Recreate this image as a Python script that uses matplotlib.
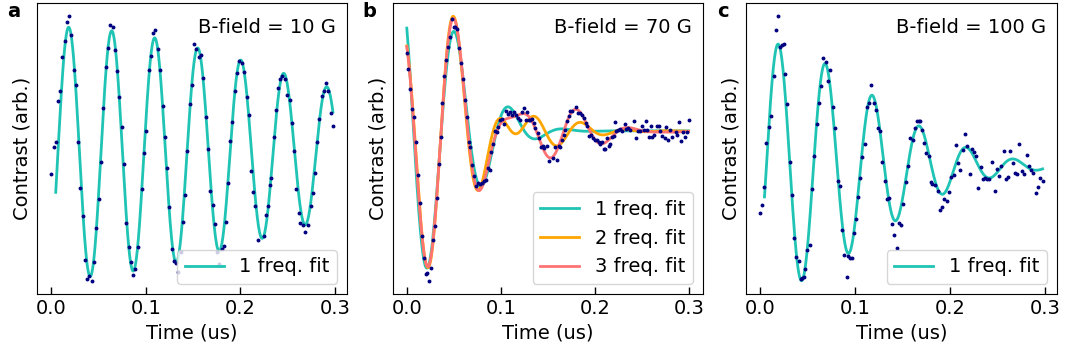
import numpy as np
import matplotlib
matplotlib.use("Agg")
import matplotlib.pyplot as plt

# ---------------- data (time in us, contrast in arbitrary units) ----------------
ta = np.array([0.0,0.0028,0.0049,0.0074,0.0098,0.0120,0.0144,0.0169,0.0194,0.0215,0.0243,0.0265,0.0289,0.0310,0.0334,0.0360,0.0384,0.0405,0.0430,0.0455,0.0479,0.0504,0.0525,0.0550,0.0575,0.0599,0.0624,0.0649,0.0673,0.0698,0.0720,0.0744,0.0768,0.0794,0.0818,0.0842,0.0868,0.0889,0.0913,0.0963,0.0980,0.1005,0.1030,0.1054,0.1079,0.1101,0.1125,0.1149,0.1178,0.1199,0.1228,0.1249,0.1273,0.1297,0.1319,0.1344,0.1368,0.1393,0.1418,0.1435,0.1463,0.1485,0.1509,0.1534,0.1559,0.1580,0.1604,0.1633,0.1654,0.1683,0.1707,0.1731,0.1757,0.1778,0.1802,0.1823,0.1848,0.1873,0.1894,0.1915,0.1947,0.1968,0.1989,0.2014,0.2038,0.2067,0.2088,0.2112,0.2133,0.2159,0.2183,0.2247,0.2268,0.2289,0.2310,0.2328,0.2352,0.2377,0.2398,0.2419,0.2444,0.2466,0.2490,0.2519,0.2546,0.2567,0.2585,0.2614,0.2628,0.2656,0.2680,0.2716,0.2741,0.2762,0.2783,0.2808,0.2832,0.2857,0.2878,0.2903,0.2924,0.2952,0.2977])
ca = np.array([126,153.3,158.7,200,210,243.3,260,279.3,284.7,265.7,231,215.7,158.3,112.7,84.3,40.3,20.7,24.3,19.3,38,72.3,101.3,138,193,233.3,252.7,275.7,274,251,229.7,203.7,173.3,136.3,77.7,53,37.7,24.7,31,53,111.3,147.3,169.3,230.7,244.7,267.7,270.7,252.3,230.7,194.3,164,132.7,93,50.7,39.3,36.7,28,47.7,78.3,105,149.7,196.3,215.3,257.3,251.7,243.3,246.3,222.7,183.3,151.3,109.7,95.7,76.7,47.7,35.7,51.3,54.3,78,117,159.3,178.3,210,227.7,240,237.7,229,203.3,185.7,129.7,108.7,94.7,60,64.3,85.7,94.3,115,122,163.3,190.3,212.7,221.7,225,221.3,206,200.3,177.7,149.3,111.7,87.3,77.7,75,68,75,94.3,107.7,127,158.3,182,204.7,210,217.3,210,188,175])

tb = np.array([0.0000,0.0018,0.0036,0.0057,0.0078,0.0100,0.0117,0.0139,0.0160,0.0181,0.0203,0.0217,0.0235,0.0256,0.0277,0.0295,0.0316,0.0338,0.0359,0.0377,0.0398,0.0416,0.0434,0.0455,0.0476,0.0498,0.0515,0.0537,0.0554,0.0579,0.0597,0.0618,0.0636,0.0657,0.0675,0.0697,0.0718,0.0736,0.0757,0.0778,0.0800,0.0821,0.0842,0.0860,0.0881,0.0899,0.0920,0.0942,0.0956,0.0974,0.0995,0.1016,0.1038,0.1059,0.1080,0.1098,0.1119,0.1141,0.1162,0.1183,0.1201,0.1223,0.1244,0.1262,0.1276,0.1294,0.1311,0.1329,0.1350,0.1368,0.1390,0.1407,0.1429,0.1446,0.1461,0.1489,0.1517,0.1553,0.1578,0.1596,0.1613,0.1631,0.1652,0.1667,0.1684,0.1702,0.1720,0.1738,0.1759,0.1798,0.1816,0.1837,0.1862,0.1880,0.1901,0.1915,0.1933,0.1958,0.1976,0.2004,0.2022,0.2040,0.2058,0.2075,0.2093,0.2111,0.2129,0.2146,0.2164,0.2182,0.2200,0.2217,0.2228,0.2246,0.2271,0.2289,0.2317,0.2335,0.2353,0.2377,0.2420,0.2438,0.2456,0.2477,0.2498,0.2520,0.2541,0.2555,0.2576,0.2598,0.2612,0.2633,0.2655,0.2683,0.2697,0.2711,0.2740,0.2754,0.2775,0.2797,0.2818,0.2857,0.2875,0.2896,0.2910,0.2932,0.2953,0.2974,0.2996])
cb = np.array([249.3,232.7,213.3,192.7,184.3,159.3,126.3,97.7,64.7,41.7,26,27.3,19,32.3,60.7,74.7,102.3,137.3,164,198.3,225.7,242,255.7,265.3,284,275.3,276,273.3,254,239.3,222.7,202,184.3,159,154,135.7,125.3,114.3,118.3,116.7,117.7,120,121,132.7,131.3,149.3,157.3,170,169.3,174,181.7,182.3,177.7,190.7,188,190,186.7,189.7,186.7,183.3,182,190,193.3,181.3,189.3,181.7,181.3,182.3,178,173.3,168,163.7,154.3,155.7,153,155,139.7,143,154.3,141,155,154.3,161.7,166.7,171.7,180,185.7,191,191,194.3,189,188.3,186.7,183.3,178.3,175,165.7,166.7,163.3,161,161.7,159,157.7,159,152.3,152.3,163.3,155.7,157.7,164.3,165.7,179,170.7,171.7,172.3,170,177.3,172.3,173.3,171.7,181,163.3,170.7,170.7,175.7,171.7,180,171,164.3,175.7,164.3,166.7,175,175,170.7,165.7,163.3,174.3,161.7,171.7,164,169,166.7,179,160,169,164.3,169,181.7])

tc = np.array([0.0,0.0021,0.0046,0.0067,0.0091,0.0116,0.0141,0.0165,0.0190,0.0211,0.0229,0.0247,0.0261,0.0285,0.0310,0.0335,0.0356,0.0381,0.0405,0.0426,0.0441,0.0458,0.0476,0.0497,0.0525,0.0550,0.0571,0.0596,0.0617,0.0645,0.0666,0.0691,0.0719,0.0740,0.0765,0.0786,0.0815,0.0839,0.0860,0.0885,0.0910,0.0927,0.0948,0.0963,0.0984,0.1005,0.1030,0.1051,0.1075,0.1100,0.1121,0.1146,0.1167,0.1195,0.1220,0.1241,0.1262,0.1287,0.1312,0.1337,0.1361,0.1386,0.1407,0.1439,0.1463,0.1484,0.1509,0.1532,0.1555,0.1580,0.1605,0.1633,0.1651,0.1672,0.1686,0.1704,0.1725,0.1749,0.1774,0.1795,0.1813,0.1837,0.1869,0.1897,0.1915,0.1932,0.1968,0.1993,0.2014,0.2038,0.2063,0.2085,0.2109,0.2133,0.2159,0.2180,0.2204,0.2225,0.2247,0.2271,0.2296,0.2321,0.2342,0.2366,0.2392,0.2413,0.2444,0.2469,0.2490,0.2518,0.2540,0.2567,0.2593,0.2610,0.2631,0.2659,0.2684,0.2709,0.2730,0.2755,0.2779,0.2804,0.2829,0.2853,0.2874,0.2900,0.2924,0.2948,0.2973])
cc = np.array([90.7,98.3,116.7,160,176,186.3,225.7,270.7,284.7,254.3,256,257,227.3,198,140.7,108.3,65.7,47.3,43.3,26,26.7,27.3,35.3,54,59,114,147.3,178.7,199.3,216.3,244,239.3,221,231.7,195.3,174.7,122,117.3,73.7,49.3,27.3,48.3,46,46.7,71,85,107,125.3,146.3,158.7,195,199.3,217.3,199.3,192.7,174.3,171.7,141,122.7,105,106,80,69.3,56.7,80.7,79.3,100,121.7,136.7,165,162.7,175,181.7,181.7,181.7,172.7,160,150,146.7,121.7,119.3,118.3,112.7,94,96.7,105,102.7,111.7,126,128.3,157.7,140,133.3,153.3,169,156.7,129.3,154,150.7,146.7,115.7,136,124,125.7,124,124,140.7,112.3,134,127.3,136.7,152.3,124,126.7,152.3,140,130,129,158.3,131.7,129,148.3,137.3,133.3,130,110,116.7,125,122.7])

# ---------------- fit parameters ----------------
# y = C + sum_i R_i * exp(-(t/T_i)^2) * cos(2*pi*f_i*t + phi_i)   (f in MHz, t in us)
fit_a = dict(C=148.0, R=[126.0], f=[22.0], phi=[-2.571], T=[0.362])
fit_b1 = dict(C=170.5, R=[149.07], f=[16.992], phi=[0.7996], T=[0.0808])
fit_b2 = dict(C=170.34, R=[90.63, 59.73], f=[15.0861, 21.7102], phi=[1.2543, -0.2563], T=[0.0984, 0.1229])
fit_b3 = dict(C=169.8, R=[7.6, 87.86, 47.5], f=[10.235, 15.736, 22.021], phi=[2.005, 1.0659, -0.1949], T=[0.1345, 0.1345, 0.1345])
fit_c = dict(C=137.0, R=[122.0], f=[20.15], phi=[-2.405], T=[0.158])

titles = ["B-field = 10 G", "B-field = 70 G", "B-field = 100 G"]
panel_labels = ["a", "b", "c"]
fit_labels = ["1 freq. fit", "2 freq. fit", "3 freq. fit"]


def model(t, p):
    y = np.full_like(t, p["C"])
    for R, f, ph, T in zip(p["R"], p["f"], p["phi"], p["T"]):
        y = y + R * np.exp(-(t / T) ** 2) * np.cos(2 * np.pi * f * t + ph)
    return y


teal, orange, salmon, dot = "#1fc4b4", "#ffa500", "#ff7373", "#000080"
plt.rcParams.update({"font.family": "DejaVu Sans", "font.size": 14})

W, H = 1065, 358
fig = plt.figure(figsize=(W / 100, H / 100), dpi=100)


def rect(l, r, top=3, bot=294):
    return [l / W, (H - bot) / H, (r - l) / W, (bot - top) / H]


axa = fig.add_axes(rect(37, 347))
axb = fig.add_axes(rect(392.7, 702.7))
axc = fig.add_axes(rect(746, 1056.7))

tfa = np.linspace(ta[2], ta[-1], 1200)
tfb = np.linspace(tb[0], tb[-1], 1200)
tfc = np.linspace(tc[2], tc[-1], 1200)

axa.plot(tfa, model(tfa, fit_a), color=teal, lw=2, label=fit_labels[0])
axa.plot(ta, ca, "o", color=dot, ms=2.8, mew=0)

axb.plot(tfb, model(tfb, fit_b1), color=teal, lw=2, label=fit_labels[0])
axb.plot(tfb, model(tfb, fit_b2), color=orange, lw=2, label=fit_labels[1])
axb.plot(tfb, model(tfb, fit_b3), color=salmon, lw=2, label=fit_labels[2])
axb.plot(tb, cb, "o", color=dot, ms=2.8, mew=0)

axc.plot(tfc, model(tfc, fit_c), color=teal, lw=2, label=fit_labels[0])
axc.plot(tc, cc, "o", color=dot, ms=2.8, mew=0)

for ax, lab, txt, x0 in zip([axa, axb, axc], panel_labels, titles, [7, 362, 717]):
    ax.set_yticks([])
    ax.set_xticks([0.0, 0.1, 0.2, 0.3])
    ax.tick_params(axis="x", direction="in", length=5, width=1, labelsize=14)
    ax.set_xlabel("Time (us)", fontsize=14)
    ax.set_ylabel("Contrast (arb.)", fontsize=14)
    ax.text(1 - 11 / 310, 1 - 30 / 291, txt, transform=ax.transAxes,
            ha="right", va="baseline", fontsize=14)
    ax.legend(loc="lower right", fontsize=14)
    fig.text(x0 / W, 1 - 17 / H, lab, fontsize=14, fontweight="bold",
             ha="left", va="baseline")

fig.savefig("out.png", dpi=100)
